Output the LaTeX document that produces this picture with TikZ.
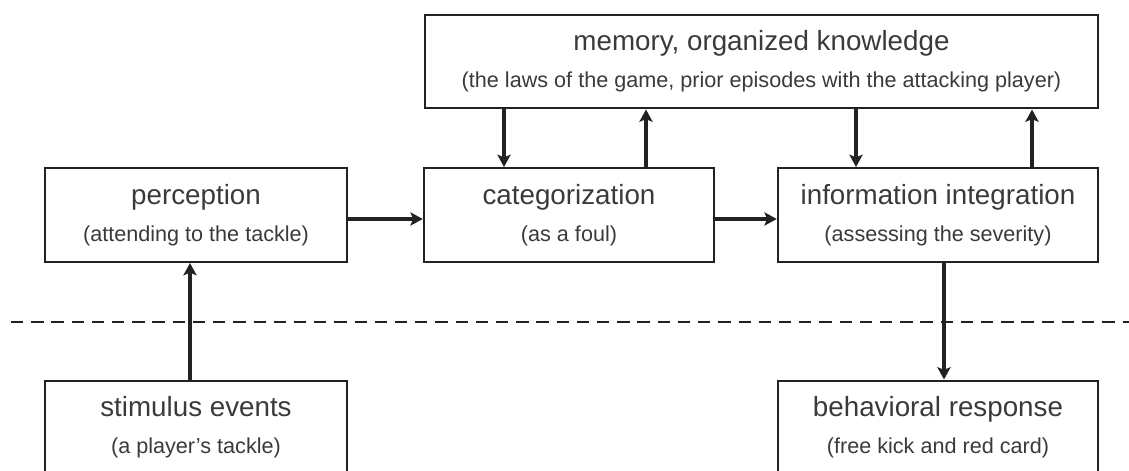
\documentclass[tikz,border=0pt]{standalone}
\usepackage{fontspec}
\setmainfont{Liberation Sans}
\usetikzlibrary{arrows.meta}
\definecolor{inkgray}{HTML}{222222}
\definecolor{txtgray}{HTML}{3A3A3A}
\newcommand{\boxtitle}[2]{{\fontsize{15.8}{18}\selectfont #1}\\[3pt]{\fontsize{12.3}{14}\selectfont #2}}
\tikzset{
  stage/.style={draw=inkgray, line width=1.4pt, minimum height=1.87cm, inner sep=0pt,
    align=center, text=txtgray, font=\fontsize{15.8}{18}\selectfont},
  arr/.style={draw=inkgray, line width=2.4pt, -{Stealth[length=7pt, width=7.5pt, inset=1.5pt]}}
}
\begin{document}
\begin{tikzpicture}
\useasboundingbox (0,0) rectangle (22.58,-9.42);
\clip (0,0) rectangle (22.58,-9.42);
\node[stage, minimum width=13.46cm] (memory) at (15.23,-1.23)
  {\boxtitle{memory, organized knowledge}{(the laws of the game, prior episodes with the attacking player)}};
\node[stage, minimum width=6.04cm] (perc) at (3.92,-4.30)
  {\boxtitle{perception}{(attending to the tackle)}};
\node[stage, minimum width=5.8cm] (categ) at (11.38,-4.30)
  {\boxtitle{categorization}{(as a foul)}};
\node[stage, minimum width=6.4cm] (integ) at (18.76,-4.30)
  {\boxtitle{information integration}{(assessing the severity)}};
\node[stage, minimum width=6.04cm] (stim) at (3.92,-8.55)
  {\boxtitle{stimulus events}{(a player's tackle)}};
\node[stage, minimum width=6.4cm] (resp) at (18.76,-8.55)
  {\boxtitle{behavioral response}{(free kick and red card)}};

\draw[inkgray, line width=1.3pt, dash pattern=on 7pt off 4.5pt] (0.22,-6.44) -- (22.58,-6.44); %boundary

\draw[arr] ([yshift=-0.08cm]perc.east) -- ([yshift=-0.08cm]categ.west);
\draw[arr] ([yshift=-0.08cm]categ.east) -- ([yshift=-0.08cm]integ.west);
\draw[arr] ([xshift=-1.3cm]categ.north |- memory.south) -- ([xshift=-1.3cm]categ.north);
\draw[arr] ([xshift=1.54cm]categ.north) -- ([xshift=1.54cm]categ.north |- memory.south);
\draw[arr] ([xshift=-1.64cm]integ.north |- memory.south) -- ([xshift=-1.64cm]integ.north);
\draw[arr] ([xshift=1.88cm]integ.north) -- ([xshift=1.88cm]integ.north |- memory.south);
\draw[arr] ([xshift=-0.12cm]stim.north) -- ([xshift=-0.12cm]perc.south); %input
\draw[arr] ([xshift=0.12cm]integ.south) -- ([xshift=0.12cm]resp.north); %output
\end{tikzpicture}
\end{document}
